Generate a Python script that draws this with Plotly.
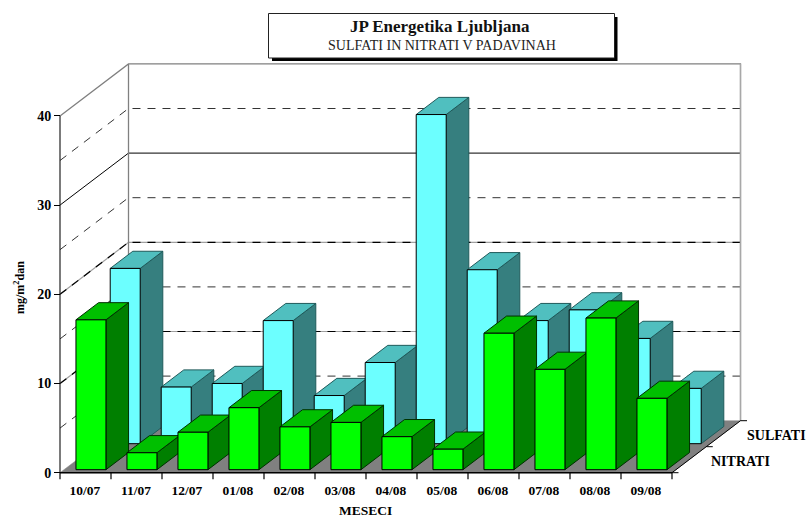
import plotly.graph_objects as go

categories = ["10/07", "11/07", "12/07", "01/08", "02/08", "03/08",
              "04/08", "05/08", "06/08", "07/08", "08/08", "09/08"]
nitrati = [16.8, 1.9, 4.2, 6.95, 4.8, 5.3, 3.7, 2.3, 15.3, 11.25, 17.0, 8.0]
sulfati = [19.65, 6.35, 6.75, 13.8, 5.4, 9.1, 36.9, 19.5, 13.8, 15.0, 11.8, 6.2]
value_ticks = [0, 10, 20, 30, 40]
series_names = ["NITRATI", "SULFATI"]

W, H = 808, 517
X0, Y0 = 60.0, 472.7           # pixel of category 0, value 0
PX_CAT, PX_VAL = 51.0, 8.92    # pixels per category / per value unit
DEPTH_PX, DEPTH_PY = 68.5, 52.0
DU, DV = DEPTH_PX / PX_CAT, DEPTH_PY / PX_VAL
N = len(categories)
VMAX = value_ticks[-1]

BLACK = "#000000"
GRAY = "#808080"


def P(u, v, d):
    return u + d * DU, v + d * DV


fig = go.Figure()


def poly(points, fill=None, line=BLACK, width=1.0, dash="solid"):
    xs, ys = zip(*[P(*p) for p in points])
    kw = dict(fill="toself", fillcolor=fill) if fill else {}
    fig.add_trace(go.Scatter(x=list(xs), y=list(ys), mode="lines",
                             line=dict(color=line, width=width, dash=dash),
                             hoverinfo="skip", showlegend=False, **kw))


# walls: gridlines on the side and back walls
for v in [5, 10, 15, 20, 25, 30, 35]:
    path = [(0, v, 0), (0, v, 1), (N, v, 1)]
    if v == 30:
        poly(path, line=BLACK, width=1.0)
    elif v in (10, 20):
        poly(path, line="#a0a0a0", width=1.2)
        poly(path, line=BLACK, width=1.2, dash="8px,7px")
    else:
        poly(path, line="#333333", width=1.0, dash="8px,7px")

poly([(0, VMAX, 0), (0, VMAX, 1), (N, VMAX, 1), (N, 0, 1)], line=GRAY, width=1.3)
poly([(0, 0, 1), (0, VMAX, 1)], line=GRAY, width=1.3)
poly([(N, 0, 1), (N, VMAX, 1)], line="#a8a8a8", width=1.3)
poly([(0, 0, 0), (0, VMAX, 0)], line="#222222", width=1.2)

# floor
poly([(0, 0, 0), (N, 0, 0), (N, 0, 1), (0, 0, 1), (0, 0, 0)], fill=GRAY, line=GRAY, width=0.5)


def bar(i, val, d0, front, top, side, edge):
    u0 = i + 0.235
    u1 = u0 + 0.588
    d1 = d0 + 0.33
    poly([(u1, 0, d0), (u1, 0, d1), (u1, val, d1), (u1, val, d0), (u1, 0, d0)], fill=side, line=edge)
    poly([(u0, val, d0), (u1, val, d0), (u1, val, d1), (u0, val, d1), (u0, val, d0)], fill=top, line=edge)
    poly([(u0, 0, d0), (u1, 0, d0), (u1, val, d0), (u0, val, d0), (u0, 0, d0)], fill=front, line=BLACK)


for i, val in enumerate(sulfati):
    bar(i, val, 0.558, "#6CFFFF", "#50BFBF", "#367F7F", "#1F5A5A")
for i, val in enumerate(nitrati):
    bar(i, val, 0.058, "#00FF00", "#00BF00", "#007F00", "#003000")

# axis baseline and tick marks
poly([(0, 0, 0), (N, 0, 0)], line=BLACK, width=1.6)
poly([(N, 0, 0), (N, 0, 1)], line=BLACK, width=1.0)
for i in range(N + 1):
    poly([(i, 0, 0), (i, -6.5 / PX_VAL, 0)], line=BLACK, width=1.2)
for d in (0.0, 0.5, 1.0):
    poly([(N, 0, d), (N + 6.5 / PX_CAT, 0, d)], line=BLACK, width=1.0)

xfrac = lambda px: px / W
yfrac = lambda py: 1 - py / H
serif = "Liberation Serif"


def note(text, px, py, size, color=BLACK, angle=0):
    return dict(text=text, xref="paper", yref="paper", x=xfrac(px), y=yfrac(py),
                xanchor="center", yanchor="middle", textangle=angle, showarrow=False,
                font=dict(family=serif, size=size, color=color))


fig.update_layout(
    width=W, height=H, margin=dict(l=0, r=0, t=0, b=0),
    paper_bgcolor="white", plot_bgcolor="white", showlegend=False,
    xaxis=dict(range=[-X0 / PX_CAT, (W - X0) / PX_CAT], domain=[0, 1],
               anchor="free", position=yfrac(Y0), showgrid=False, zeroline=False,
               showline=False, ticks="", tickmode="array",
               tickvals=[i + 0.49 for i in range(N)], ticktext=categories,
               ticklabelstandoff=8,
               tickfont=dict(family=serif, size=13.5, color=BLACK, weight="bold")),
    yaxis=dict(range=[-(H - Y0) / PX_VAL, Y0 / PX_VAL], domain=[0, 1],
               anchor="free", position=xfrac(X0), showgrid=False, zeroline=False,
               showline=False, ticks="outside", ticklen=6, tickwidth=1.2, tickcolor=BLACK,
               tickmode="array", tickvals=value_ticks, ticktext=[str(v) for v in value_ticks],
               tickfont=dict(family=serif, size=14, color=BLACK, weight="bold")),
    shapes=[
        dict(type="rect", xref="paper", yref="paper", x0=xfrac(272), x1=xfrac(617.5),
             y0=yfrac(61), y1=yfrac(17), fillcolor=BLACK, line=dict(width=0)),
        dict(type="rect", xref="paper", yref="paper", x0=xfrac(268.5), x1=xfrac(614.5),
             y0=yfrac(58), y1=yfrac(13.5), fillcolor="white", line=dict(color="#222222", width=1)),
    ],
    annotations=[
        note("<b>JP Energetika Ljubljana</b>", 440, 27, 17, "#111111"),
        note("SULFATI IN NITRATI V PADAVINAH", 442, 45, 14, "#222222"),
        note("<b>MESECI</b>", 365, 510, 13.5),
        note("<b>mg/m<sup>2</sup>dan</b>", 19, 288, 12, angle=-90),
        note("<b>%s</b>" % series_names[1], 776, 435, 14),
        note("<b>%s</b>" % series_names[0], 740, 461, 14),
    ],
)

fig.write_html("out.html", config=dict(displayModeBar=False),
               post_script="document.body.style.margin='0';document.documentElement.style.overflow='hidden';")
